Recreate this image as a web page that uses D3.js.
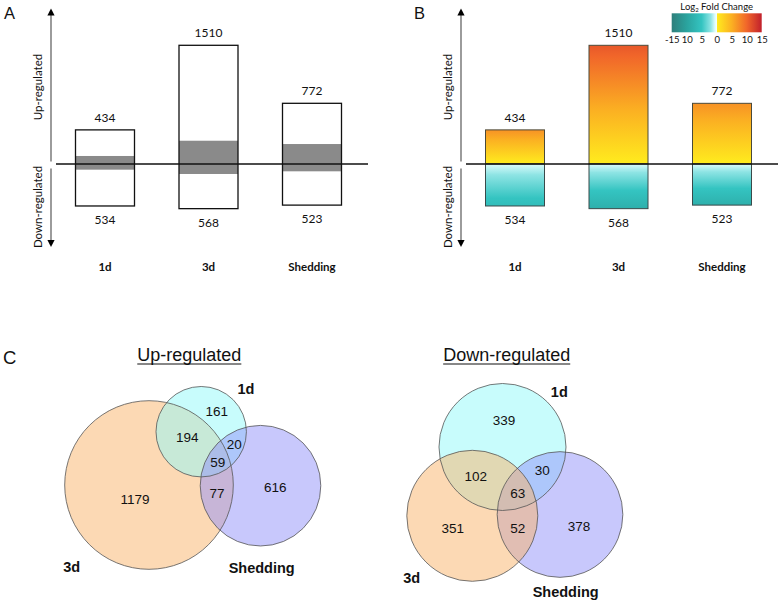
<!DOCTYPE html>
<html>
<head>
<meta charset="utf-8">
<script src="https://cdn.jsdelivr.net/npm/d3@7"></script>
<style>
    body { margin: 0; background: #fff; }
    .bars text { font-family: Lato, "Open Sans", sans-serif; fill: #111; }
    .venn text { font-family: "Liberation Sans", Arial, sans-serif; fill: #111; }
    .letter { font-family: "Liberation Sans", Arial, sans-serif; fill: #111; }
</style>
</head>
<body>
<svg id="fig" width="781" height="602"></svg>
<script>
// ---- data ----
const categories = ["1d", "3d", "Shedding"];
const upCounts = [434, 1510, 772];
const downCounts = [534, 568, 523];
// grey band in panel A (genes, estimated from its height)
const bandUp = [102, 296, 254];
const bandDown = [72, 127, 93];
// log2 fold change reached at the outer end of each bar in panel B
const maxLfcUp = [7, 11, 7];
const maxLfcDown = [-6, -8, -8];

// colour bar
const legendTicks = [-15, -10, -5, 0, 5, 10, 15];
const lfcStops = [-15, -10, -5, -2, -0.6, -0.01, 0, 5, 10, 15];
const lfcColors = ["#2e7f7b", "#2aa39e", "#34c4c1", "#8ee4e4", "#dcfcfc", "#f4ffff",
    "#ffec1e", "#fbb022", "#f1662a", "#c1202c"];

// venn regions
const vennKeys = ["1d", "3d", "Shedding", "1d&3d", "1d&Shedding", "3d&Shedding", "1d&3d&Shedding"];
const upRegionCounts = [161, 1179, 616, 194, 20, 77, 59];
const downRegionCounts = [339, 351, 378, 102, 30, 52, 63];

// ---- layout ----
const svg = d3.select("#fig");
const defs = svg.append("defs");

const lfcColor = d3.scaleLinear().domain(lfcStops).range(lfcColors);
const yScale = d3.scaleLinear().domain([0, 1510]).range([164, 45.3]);
const barWidth = 59;

function drawBarPanel(dx, letter, shaded) {
    const g = svg.append("g").attr("class", "bars");
    const x = d3.scalePoint().domain(categories).range([105 + dx, 312 + dx]);

    svg.append("text").attr("class", "letter")
        .attr("x", 4 + dx).attr("y", 18.5)
        .attr("font-size", 16.5)
        .text(letter);

    // arrows
    const ax = 51 + dx;
    g.append("line").attr("x1", ax).attr("x2", ax).attr("y1", 14).attr("y2", 161.5)
        .attr("stroke", "#666").attr("stroke-width", 1.3);
    g.append("line").attr("x1", ax).attr("x2", ax).attr("y1", 168.5).attr("y2", 242)
        .attr("stroke", "#666").attr("stroke-width", 1.3);
    g.append("path").attr("d", `M${ax},8.5L${ax - 3.6},15.5L${ax + 3.6},15.5Z`).attr("fill", "#000");
    g.append("path").attr("d", `M${ax},247L${ax - 3.6},240L${ax + 3.6},240Z`).attr("fill", "#000");

    g.append("text")
        .attr("transform", `translate(${42 + dx},87) rotate(-90)`)
        .attr("text-anchor", "middle").attr("font-size", 11.5)
        .text("Up-regulated");
    g.append("text")
        .attr("transform", `translate(${42 + dx},207) rotate(-90)`)
        .attr("text-anchor", "middle").attr("font-size", 11.5)
        .text("Down-regulated");

    const rows = categories.map((c, i) => ({
        c, i, up: upCounts[i], down: downCounts[i],
        bandUp: bandUp[i], bandDown: bandDown[i],
        lfcUp: maxLfcUp[i], lfcDown: maxLfcDown[i]
    }));

    if (shaded) {
        rows.forEach(d => {
            const gu = defs.append("linearGradient").attr("id", `up${d.i}`)
                .attr("x1", 0).attr("x2", 0).attr("y1", 1).attr("y2", 0);
            const upVals = [0].concat(lfcStops.filter(v => v > 0 && v < d.lfcUp), [d.lfcUp]);
            gu.selectAll("stop").data(upVals).join("stop")
                .attr("offset", v => v / d.lfcUp)
                .attr("stop-color", v => lfcColor(v));

            const gd = defs.append("linearGradient").attr("id", `down${d.i}`)
                .attr("x1", 0).attr("x2", 0).attr("y1", 0).attr("y2", 1);
            const downVals = [-0.6].concat(
                lfcStops.filter(v => v < -0.6 && v > d.lfcDown).sort((a, b) => b - a),
                [d.lfcDown]);
            gd.selectAll("stop").data(downVals).join("stop")
                .attr("offset", v => (v + 0.6) / (d.lfcDown + 0.6))
                .attr("stop-color", v => lfcColor(v));
        });

        g.selectAll("rect.up").data(rows).join("rect").attr("class", "up")
            .attr("x", d => x(d.c) - barWidth / 2).attr("width", barWidth)
            .attr("y", d => yScale(d.up)).attr("height", d => yScale(0) - yScale(d.up))
            .attr("fill", d => `url(#up${d.i})`)
            .attr("stroke", "#4a4a3a").attr("stroke-width", 1);
        g.selectAll("rect.down").data(rows).join("rect").attr("class", "down")
            .attr("x", d => x(d.c) - barWidth / 2).attr("width", barWidth)
            .attr("y", yScale(0)).attr("height", d => yScale(-d.down) - yScale(0))
            .attr("fill", d => `url(#down${d.i})`)
            .attr("stroke", "#3a4a4a").attr("stroke-width", 1);
    } else {
        g.selectAll("rect.box").data(rows).join("rect").attr("class", "box")
            .attr("x", d => x(d.c) - barWidth / 2).attr("width", barWidth)
            .attr("y", d => yScale(d.up)).attr("height", d => yScale(-d.down) - yScale(d.up))
            .attr("fill", "#fff");
        g.selectAll("rect.band").data(rows).join("rect").attr("class", "band")
            .attr("x", d => x(d.c) - barWidth / 2).attr("width", barWidth)
            .attr("y", d => yScale(d.bandUp)).attr("height", d => yScale(-d.bandDown) - yScale(d.bandUp))
            .attr("fill", "#8a8a8a");
        g.selectAll("rect.edge").data(rows).join("rect").attr("class", "edge")
            .attr("x", d => x(d.c) - barWidth / 2).attr("width", barWidth)
            .attr("y", d => yScale(d.up)).attr("height", d => yScale(-d.down) - yScale(d.up))
            .attr("fill", "none").attr("stroke", "#111").attr("stroke-width", 1.3);
    }

    // zero line
    g.append("line").attr("x1", 56 + dx).attr("x2", 368 + dx)
        .attr("y1", yScale(0)).attr("y2", yScale(0))
        .attr("stroke", "#111").attr("stroke-width", 1.3);

    g.selectAll("text.upv").data(rows).join("text").attr("class", "upv")
        .attr("x", d => x(d.c)).attr("y", d => yScale(d.up) - 8)
        .attr("text-anchor", "middle").attr("font-size", 12)
        .text(d => d.up);
    g.selectAll("text.downv").data(rows).join("text").attr("class", "downv")
        .attr("x", d => x(d.c)).attr("y", d => yScale(-d.down) + 18)
        .attr("text-anchor", "middle").attr("font-size", 12)
        .text(d => d.down);
    g.selectAll("text.cat").data(rows).join("text").attr("class", "cat")
        .attr("x", d => x(d.c)).attr("y", 271)
        .attr("text-anchor", "middle").attr("font-size", 11.5).attr("font-weight", "bold")
        .text(d => d.c);
}

drawBarPanel(0, "A", false);
drawBarPanel(410, "B", true);

// colour legend
const legend = svg.append("g").attr("class", "bars");
const lx = d3.scaleLinear().domain([-15, 15]).range([671.7, 761.7]);
const lg = defs.append("linearGradient").attr("id", "lfcbar");
lg.selectAll("stop").data(lfcStops).join("stop")
    .attr("offset", v => (lx(v) - lx(-15)) / (lx(15) - lx(-15)))
    .attr("stop-color", v => lfcColor(v));
legend.append("rect").attr("x", lx(-15)).attr("y", 13.3)
    .attr("width", lx(15) - lx(-15)).attr("height", 19)
    .attr("fill", "url(#lfcbar)");
const title = legend.append("text").attr("x", 716.7).attr("y", 9.5)
    .attr("text-anchor", "middle").attr("font-size", 9.5);
title.append("tspan").text("Log");
title.append("tspan").attr("font-size", 6).attr("dy", 2).text("2");
title.append("tspan").attr("dy", -2).text(" Fold Change");
legend.append("g").attr("transform", "translate(0,32.3)")
    .call(d3.axisBottom(lx).tickValues(legendTicks).tickSize(0).tickPadding(4)
        .tickFormat(d => d === -15 ? "-15" : Math.abs(d)))
    .call(a => a.select(".domain").remove())
    .call(a => a.selectAll("text").attr("font-size", 9.5).attr("font-family", "Lato, sans-serif").attr("fill", "#111"));

// ---- panel C: venn diagrams ----
svg.append("text").attr("class", "letter")
    .attr("x", 3).attr("y", 363.5).attr("font-size", 18.5).text("C");

const setColors = { "1d": "#91f9f9", "3d": "#f9b369", "Shedding": "#9191f9" };

const vennLayout = {
    up: {
        title: "Up-regulated", tx: 189.3, counts: upRegionCounts, rmax: 84.3,
        order: ["3d", "1d", "Shedding"],
        centers: { "1d": [201.2, 431.7], "3d": [149, 485], "Shedding": [260.5, 485.7] },
        names: { "1d": [246, 389.3], "3d": [71.7, 566.7], "Shedding": [261.7, 568.3] },
        labels: [[216.7, 411], [135, 499], [275.3, 487.7], [187.3, 437.3], [234.3, 444], [217, 493.3], [217.7, 462.3]]
    },
    down: {
        title: "Down-regulated", tx: 506.7, counts: downRegionCounts, rmax: 65.5,
        order: ["1d", "Shedding", "3d"],
        centers: { "1d": [502.5, 447], "3d": [472.3, 515.8], "Shedding": [560, 514.5] },
        names: { "1d": [559.3, 391.7], "3d": [411.7, 578.3], "Shedding": [565.7, 592.3] },
        labels: [[504, 420], [452.7, 528.3], [579, 526.7], [475.7, 476.7], [542.3, 470.7], [517.7, 528.3], [517.7, 493.3]]
    }
};

function drawVenn(L) {
    const g = svg.append("g").attr("class", "venn");
    const totals = categories.map(s => ({
        s, n: d3.sum(vennKeys.map((k, i) => k.split("&").includes(s) ? L.counts[i] : 0))
    }));
    const r = d3.scaleSqrt().domain([0, d3.max(totals, d => d.n)]).range([0, L.rmax]);
    const sets = L.order.map(s => totals.find(t => t.s === s));

    g.selectAll("circle.fill").data(sets).join("circle").attr("class", "fill")
        .attr("cx", d => L.centers[d.s][0]).attr("cy", d => L.centers[d.s][1])
        .attr("r", d => r(d.n))
        .attr("fill", d => setColors[d.s]).attr("fill-opacity", 0.5);
    g.selectAll("circle.edge").data(sets).join("circle").attr("class", "edge")
        .attr("cx", d => L.centers[d.s][0]).attr("cy", d => L.centers[d.s][1])
        .attr("r", d => r(d.n))
        .attr("fill", "none").attr("stroke", "#555").attr("stroke-width", 0.8);

    g.selectAll("text.n").data(vennKeys.map((k, i) => ({ k, n: L.counts[i], p: L.labels[i] })))
        .join("text").attr("class", "n")
        .attr("x", d => d.p[0]).attr("y", d => d.p[1])
        .attr("text-anchor", "middle").attr("dominant-baseline", "central")
        .attr("font-size", 13.5)
        .text(d => d.n);

    g.selectAll("text.set").data(categories).join("text").attr("class", "set")
        .attr("x", d => L.names[d][0]).attr("y", d => L.names[d][1])
        .attr("text-anchor", "middle").attr("dominant-baseline", "central")
        .attr("font-size", 14.5).attr("font-weight", "bold")
        .text(d => d);

    const t = g.append("text").attr("x", L.tx).attr("y", 361)
        .attr("text-anchor", "middle").attr("font-size", 18)
        .text(L.title);
    const w = t.node().getComputedTextLength();
    g.append("line").attr("x1", L.tx - w / 2).attr("x2", L.tx + w / 2)
        .attr("y1", 364).attr("y2", 364).attr("stroke", "#111").attr("stroke-width", 1.1);
}

drawVenn(vennLayout.up);
drawVenn(vennLayout.down);
</script>
</body>
</html>
